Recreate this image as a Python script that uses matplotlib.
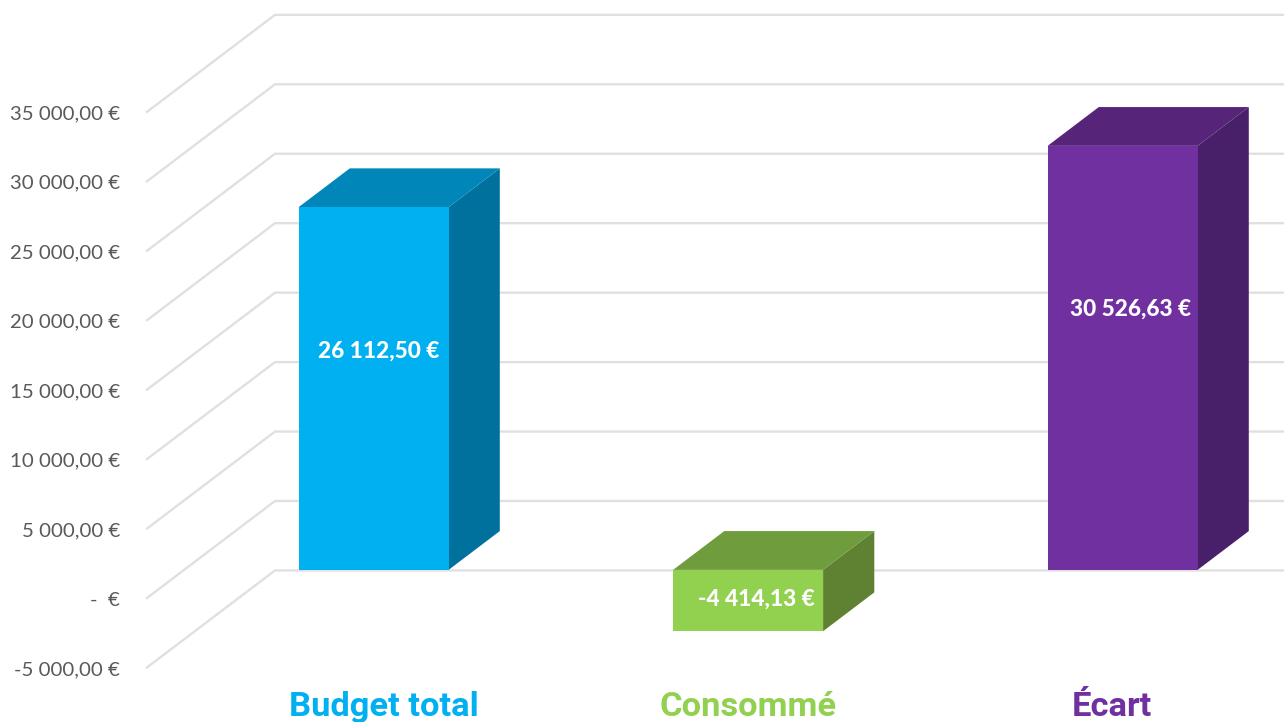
import matplotlib
matplotlib.use("Agg")
import matplotlib.pyplot as plt
from matplotlib.patches import Polygon

categories = ["Budget total", "Consommé", "Écart"]
values = [26112.50, -4414.13, 30526.63]
value_labels = ["26 112,50 €", "-4 414,13 €", "30 526,63 €"]
ticks = [-5000, 0, 5000, 10000, 15000, 20000, 25000, 30000, 35000]
tick_labels = ["-5 000,00 €", "-  €", "5 000,00 €", "10 000,00 €", "15 000,00 €",
               "20 000,00 €", "25 000,00 €", "30 000,00 €", "35 000,00 €"]
front_colors = ["#00B0F0", "#92D050", "#7030A0"]
top_colors = ["#0086B8", "#6F9C3C", "#562479"]
side_colors = ["#00709C", "#5E8232", "#481F69"]

PX_PER_UNIT = 69.45 / 5000
PX_PER_CAT = 374.5
W, H = 1284, 722
ZERO_Y = 598
CAT0_X = 373.6

fig = plt.figure(figsize=(W / 100, H / 100), dpi=100)
ax = fig.add_axes([0, 0, 1, 1])
ax.set_xlim(-CAT0_X / PX_PER_CAT, (W - CAT0_X) / PX_PER_CAT)
ax.set_ylim((ZERO_Y - H) / PX_PER_UNIT, ZERO_Y / PX_PER_UNIT)
ax.axis("off")

# oblique projection: depth 0 = front of the floor, 1 = back wall
DX = 128 / PX_PER_CAT
DY = 97 / PX_PER_UNIT
LEFT = (147 - CAT0_X) / PX_PER_CAT
BAR_W = 150 / PX_PER_CAT
D0, D1 = 0.29, 0.69


def proj(x, v, d):
    return (x + d * DX, v + d * DY)


grid_col = "#E0E0E0"
for t in ticks:
    pts = [proj(LEFT, t, 0), proj(LEFT, t, 1), (ax.get_xlim()[1], t + DY)]
    ax.plot(*zip(*pts), color=grid_col, lw=1.7, solid_joinstyle="miter", zorder=1)

for t, lab in zip(ticks, tick_labels):
    ax.annotate(lab, xy=proj(LEFT, t, 0), xytext=(-27, -2), textcoords="offset pixels",
                ha="right", va="center", fontsize=14.7, family="Lato", color="#595959")

# where the value labels sit, as a share of the bar height, and px to the right
label_frac = [0.604, 0.48, 0.615]
label_dx = [5, 8, 8]

for i, (val, lab) in enumerate(zip(values, value_labels)):
    # bar front is centred at its category, so shift back by the depth offset
    x0 = i - BAR_W / 2 - D0 * DX
    x1 = x0 + BAR_W
    low, high = min(val, 0), max(val, 0)
    front = [proj(x0, low, D0), proj(x1, low, D0), proj(x1, high, D0), proj(x0, high, D0)]
    top = [proj(x0, high, D0), proj(x1, high, D0), proj(x1, high, D1), proj(x0, high, D1)]
    side = [proj(x1, low, D0), proj(x1, low, D1), proj(x1, high, D1), proj(x1, high, D0)]
    ax.add_patch(Polygon(side, fc=side_colors[i], ec="none", zorder=3))
    ax.add_patch(Polygon(top, fc=top_colors[i], ec="none", zorder=3))
    ax.add_patch(Polygon(front, fc=front_colors[i], ec="none", zorder=4))
    cx, cy = proj(i - D0 * DX + label_dx[i] / PX_PER_CAT, val * label_frac[i], D0)
    ax.text(cx, cy, lab, ha="center", va="center", fontsize=16.3, family="Lato",
            fontweight=900, color="white", zorder=5)
    ax.annotate(categories[i], xy=(i * 0.972 + 0.027, ticks[0]), xytext=(0, -39.5),
                textcoords="offset pixels", ha="center", va="center", fontsize=24.8,
                family="Roboto", fontweight="bold", color=front_colors[i], annotation_clip=False)

fig.savefig("out.png", dpi=100, facecolor="white")
